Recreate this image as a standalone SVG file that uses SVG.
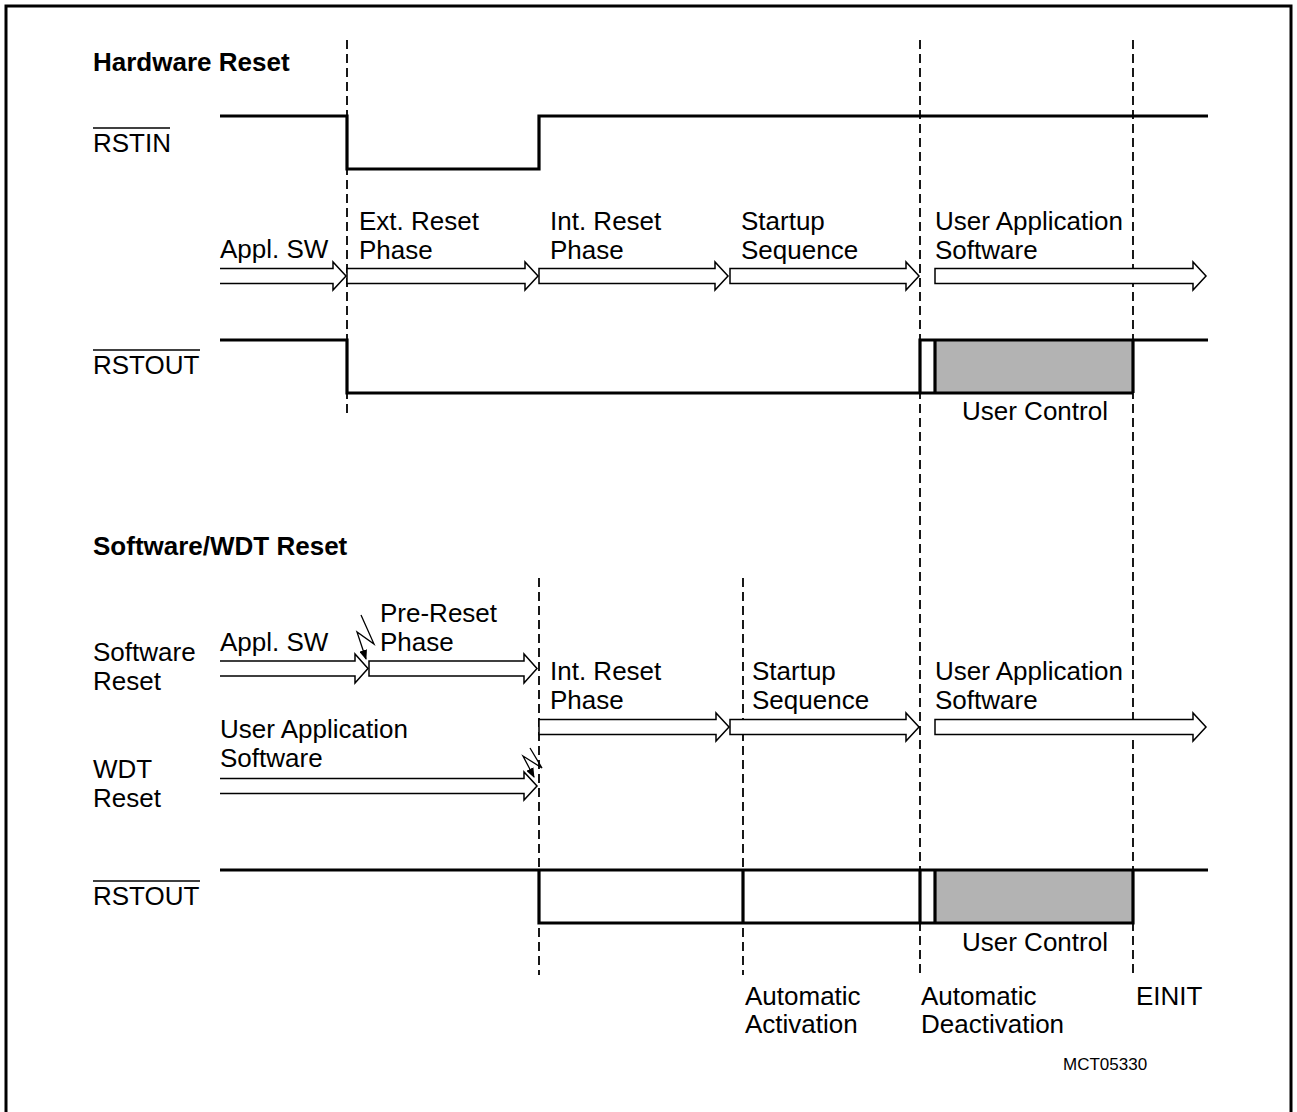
<svg xmlns="http://www.w3.org/2000/svg" width="1297" height="1112" viewBox="0 0 1297 1112">
<style>
text{font-family:"Liberation Sans",Arial,sans-serif;font-size:26px;fill:#000}
.b{font-weight:bold}
.sm{font-size:17px}
.sig{fill:none;stroke:#000;stroke-width:3.2;stroke-linejoin:miter}
.dash{fill:none;stroke:#000;stroke-width:1.8;stroke-dasharray:9,5}
.arr{fill:#fff;stroke:#000;stroke-width:1.5}
.bolt{fill:none;stroke:#000;stroke-width:1.3;marker-end:url(#ah)}
.ov{stroke:#000;stroke-width:1.5}
</style>
<defs>
<marker id="ah" viewBox="0 0 10 8" refX="9" refY="4" markerWidth="10" markerHeight="8" markerUnits="userSpaceOnUse" orient="auto">
<path d="M0,0 L10,4 L0,8 Z" fill="#000"/>
</marker>
</defs>
<rect x="6" y="6" width="1285" height="1120" fill="none" stroke="#000" stroke-width="3"/>

<g id="titles">
<text class="b" x="93" y="71">Hardware Reset</text>
<text class="b" x="93" y="555">Software/WDT Reset</text>
</g>

<g id="connectors">
<line class="dash" x1="347" y1="40" x2="347" y2="414"/>
<line class="dash" x1="920" y1="40" x2="920" y2="975"/>
<line class="dash" x1="1133" y1="40" x2="1133" y2="975"/>
<line class="dash" x1="539" y1="578" x2="539" y2="975"/>
<line class="dash" x1="743" y1="578" x2="743" y2="975"/>
<path class="bolt" d="M361,615 L374,644 L357,632 L366,659"/>
<path class="bolt" d="M530,748 L542,768 L523,756 L534,777"/>
</g>

<g id="rstin">
<text x="93" y="152">RSTIN</text>
<line class="ov" x1="93" y1="128" x2="170" y2="128"/>
<polyline class="sig" points="220,116 347,116 347,169 539,169 539,116 1208,116"/>
</g>

<g id="hw-phases">
<path class="arr" d="M220,268.5 H333 V262 L346,276 L333,290 V283.5 H220"/>
<path class="arr" d="M347,268.5 H525 V262 L538,276 L525,290 V283.5 H347 Z"/>
<path class="arr" d="M539,268.5 H715 V262 L728,276 L715,290 V283.5 H539 Z"/>
<path class="arr" d="M730,268.5 H906 V262 L919,276 L906,290 V283.5 H730 Z"/>
<path class="arr" d="M935,268.5 H1193 V262 L1206,276 L1193,290 V283.5 H935 Z"/>
<text x="220" y="258">Appl. SW</text>
<text x="359" y="230">Ext. Reset</text>
<text x="359" y="259">Phase</text>
<text x="550" y="230">Int. Reset</text>
<text x="550" y="259">Phase</text>
<text x="741" y="230">Startup</text>
<text x="741" y="259">Sequence</text>
<text x="935" y="230">User Application</text>
<text x="935" y="259">Software</text>
</g>

<g id="hw-rstout">
<text x="93" y="374">RSTOUT</text>
<line class="ov" x1="93" y1="350" x2="200" y2="350"/>
<rect x="935" y="340" width="198" height="53" fill="#b3b3b3"/>
<polyline class="sig" points="220,340 347,340 347,393 1133,393"/>
<polyline class="sig" points="920,393 920,340 1133,340 1208,340"/>
<line class="sig" x1="935" y1="340" x2="935" y2="393"/>
<line class="sig" x1="1133" y1="340" x2="1133" y2="393"/>
<text x="962" y="420">User Control</text>
</g>

<g id="sw-phases">
<text x="93" y="661">Software</text>
<text x="93" y="690">Reset</text>
<text x="93" y="778">WDT</text>
<text x="93" y="807">Reset</text>
<path class="arr" d="M220,661 H355 V654 L368,668.5 L355,683 V676 H220"/>
<path class="arr" d="M369,661 H524 V654 L537,668.5 L524,683 V676 H369 Z"/>
<path class="arr" d="M220,778.5 H524 V772 L537,786 L524,800 V793.5 H220"/>
<path class="arr" d="M539,719.5 H716 V713 L729,727 L716,741 V734.5 H539 Z"/>
<path class="arr" d="M730,719.5 H906 V713 L919,727 L906,741 V734.5 H730 Z"/>
<path class="arr" d="M935,719.5 H1193 V713 L1206,727 L1193,741 V734.5 H935 Z"/>
<text x="220" y="651">Appl. SW</text>
<text x="380" y="622">Pre-Reset</text>
<text x="380" y="651">Phase</text>
<text x="220" y="738">User Application</text>
<text x="220" y="767">Software</text>
<text x="550" y="680">Int. Reset</text>
<text x="550" y="709">Phase</text>
<text x="752" y="680">Startup</text>
<text x="752" y="709">Sequence</text>
<text x="935" y="680">User Application</text>
<text x="935" y="709">Software</text>
</g>

<g id="sw-rstout">
<text x="93" y="905">RSTOUT</text>
<line class="ov" x1="93" y1="881" x2="200" y2="881"/>
<rect x="935" y="870" width="198" height="53" fill="#b3b3b3"/>
<polyline class="sig" points="220,870 1208,870"/>
<polyline class="sig" points="539,870 539,923 1133,923 1133,870"/>
<line class="sig" x1="743" y1="870" x2="743" y2="923"/>
<line class="sig" x1="920" y1="870" x2="920" y2="923"/>
<line class="sig" x1="935" y1="870" x2="935" y2="923"/>
<text x="962" y="951">User Control</text>
</g>

<g id="events">
<text x="745" y="1005">Automatic</text>
<text x="745" y="1033">Activation</text>
<text x="921" y="1005">Automatic</text>
<text x="921" y="1033">Deactivation</text>
<text x="1136" y="1005">EINIT</text>
<text class="sm" x="1063" y="1070">MCT05330</text>
</g>
</svg>
